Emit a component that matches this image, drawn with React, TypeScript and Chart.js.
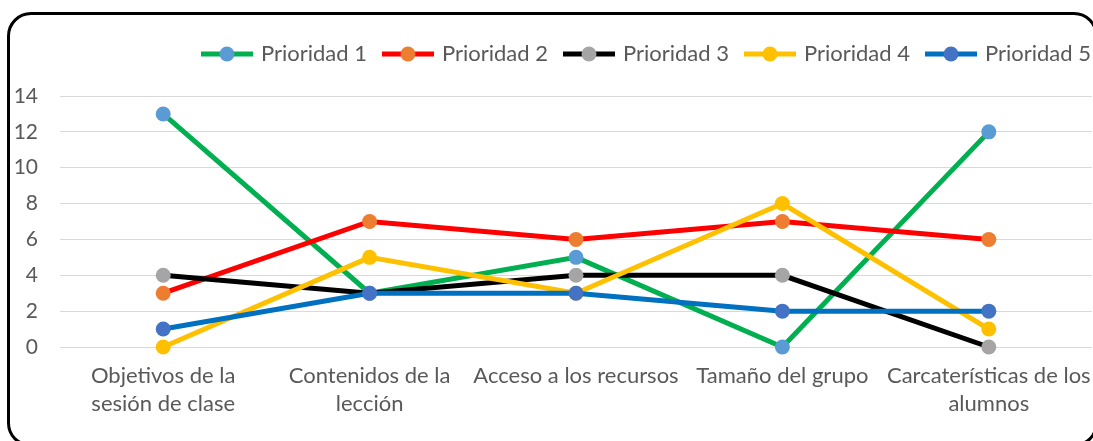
import React, { useEffect, useRef } from "react";
import { Chart, registerables } from "chart.js";

Chart.register(...registerables);

const categories: (string | string[])[] = [
  ["Objetivos de la", "sesión de clase"],
  ["Contenidos de la", "lección"],
  "Acceso a los recursos",
  "Tamaño del grupo",
  ["Carcaterísticas de los", "alumnos"],
];

const seriesNames = ["Prioridad 1", "Prioridad 2", "Prioridad 3", "Prioridad 4", "Prioridad 5"];
const prioridad1 = [13, 3, 5, 0, 12];
const prioridad2 = [3, 7, 6, 7, 6];
const prioridad3 = [4, 3, 4, 4, 0];
const prioridad4 = [0, 5, 3, 8, 1];
const prioridad5 = [1, 3, 3, 2, 2];
const seriesValues = [prioridad1, prioridad2, prioridad3, prioridad4, prioridad5];

const lineColors = ["#00B050", "#FF0000", "#000000", "#FFC000", "#0070C0"];
const markerColors = ["#5B9BD5", "#ED7D31", "#A5A5A5", "#FFC000", "#4472C4"];

const yMin = 0;
const yMax = 14;
const yStep = 2;

const TEXT = "#595959";
const FONT = "Lato, 'Open Sans', sans-serif";

function makeLegendIcon(line: string, marker: string): HTMLCanvasElement {
  const c = document.createElement("canvas");
  c.width = 52;
  c.height = 16;
  const ctx = c.getContext("2d")!;
  ctx.strokeStyle = line;
  ctx.lineWidth = 5;
  ctx.beginPath();
  ctx.moveTo(0, 8);
  ctx.lineTo(52, 8);
  ctx.stroke();
  ctx.fillStyle = marker;
  ctx.beginPath();
  ctx.arc(26, 8, 7.5, 0, Math.PI * 2);
  ctx.fill();
  return c;
}

const legendShift = {
  id: "legendShift",
  afterLayout(chart: any) {
    const l = chart.legend;
    if (l) {
      l.left += 17;
      l.right += 17;
    }
  },
};

export default function App() {
  const ref = useRef<HTMLCanvasElement | null>(null);

  useEffect(() => {
    if (!ref.current) return;
    const icons = seriesNames.map((_, i) => makeLegendIcon(lineColors[i], markerColors[i]));
    const chart = new Chart(ref.current, {
      type: "line",
      data: {
        labels: categories,
        datasets: seriesNames.map((name, i) => ({
          label: name,
          data: seriesValues[i],
          borderColor: lineColors[i],
          backgroundColor: markerColors[i],
          pointBackgroundColor: markerColors[i],
          pointBorderWidth: 0,
          pointRadius: 7.5,
          borderWidth: 5,
          tension: 0,
          fill: false,
          clip: false,
          order: seriesNames.length - i,
        })),
      },
      options: {
        responsive: false,
        animation: false,
        devicePixelRatio: 1,
        layout: { autoPadding: false, padding: { top: 25, right: 1, left: 0, bottom: 0 } },
        font: { family: FONT },
        plugins: {
          tooltip: { enabled: false },
          title: {
            display: true,
            text: "",
            padding: 0,
            font: { size: 21, lineHeight: 1 },
          },
          legend: {
            display: true,
            position: "top",
            align: "end",
            weight: 3000,
            labels: {
              usePointStyle: true,
              pointStyleWidth: 46,
              padding: 18,
              color: TEXT,
              font: { family: FONT, size: 22 },
              generateLabels: (ch: any) =>
                ch.data.datasets.map((ds: any, i: number) => ({
                  text: ds.label,
                  pointStyle: icons[i],
                  fillStyle: markerColors[i],
                  strokeStyle: lineColors[i],
                  lineWidth: 0,
                  hidden: false,
                  datasetIndex: i,
                  fontColor: TEXT,
                })),
            },
          },
        },
        scales: {
          x: {
            type: "category",
            offset: true,
            grid: { display: false, drawTicks: false },
            border: { display: false },
            afterFit: (s: any) => {
              s.height = 94;
              s.paddingLeft = 0;
              s.paddingRight = 0;
            },
            ticks: {
              color: TEXT,
              padding: 15,
              autoSkip: false,
              maxRotation: 0,
              minRotation: 0,
              font: { family: FONT, size: 22, lineHeight: 28 / 22 },
            },
          },
          y: {
            min: yMin,
            max: yMax,
            afterFit: (s: any) => {
              s.width = 60;
            },
            grid: { color: "#D9D9D9", lineWidth: 1, drawTicks: false },
            border: { display: false },
            ticks: {
              stepSize: yStep,
              color: TEXT,
              padding: 22,
              font: { family: FONT, size: 21 },
            },
          },
        },
      },
      plugins: [legendShift],
    });
    return () => chart.destroy();
  }, []);

  return (
    <div
      style={{
        position: "fixed",
        left: 0,
        top: 0,
        width: 1093,
        height: 441,
        overflow: "hidden",
        background: "#ffffff",
      }}
    >
      <canvas
        ref={ref}
        width={1093}
        height={441}
        style={{ position: "absolute", left: 0, top: 0, width: 1093, height: 441 }}
      />
      <div
        style={{
          position: "absolute",
          left: 7,
          top: 12,
          width: 1091,
          height: 435,
          boxSizing: "border-box",
          border: "3.5px solid #000000",
          borderRadius: 24,
          pointerEvents: "none",
        }}
      />
    </div>
  );
}
